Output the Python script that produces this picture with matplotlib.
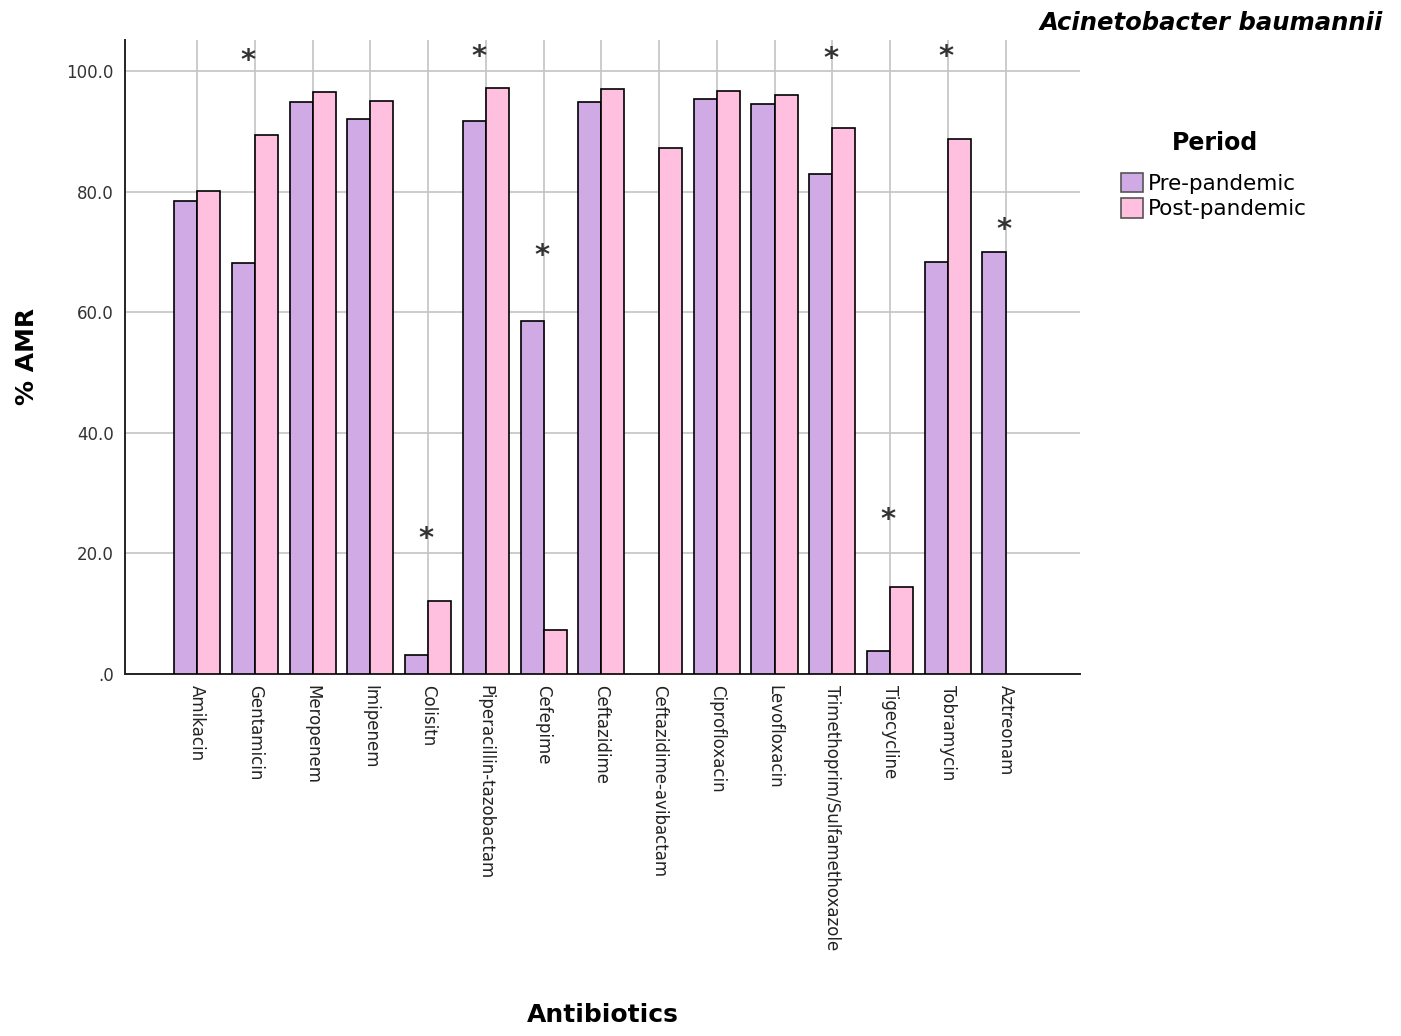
import numpy as np
import matplotlib
matplotlib.use('Agg')
import matplotlib.pyplot as plt
from matplotlib.ticker import FixedLocator, FuncFormatter

# datos
antibioticos = ['Amikacin', 'Gentamicin', 'Meropenem', 'Imipenem', 'Colisitn',
                'Piperacillin-tazobactam', 'Cefepime', 'Ceftazidime',
                'Ceftazidime-avibactam', 'Ciprofloxacin', 'Levofloxacin',
                'Trimethoprim/Sulfamethoxazole', 'Tigecycline', 'Tobramycin',
                'Aztreonam']
pre_pandemia = [78.4, 68.2, 94.9, 92.0, 3.0, 91.7, 58.6, 94.9, np.nan, 95.4,
                94.6, 82.9, 3.8, 68.3, 70.0]
post_pandemia = [80.1, 89.5, 96.5, 95.1, 12.1, 97.3, 7.3, 97.1, 87.2, 96.8,
                 96.0, 90.6, 14.3, 88.7, np.nan]

# asteriscos de significancia
estrellas = ['Gentamicin', 'Colisitn', 'Piperacillin-tazobactam', 'Cefepime',
             'Trimethoprim/Sulfamethoxazole', 'Tigecycline', 'Tobramycin',
             'Aztreonam']
altura_estrellas = [102.7, 23.4, 103.4, 70.3, 103.0, 26.5, 103.4, 74.7]
# los de Gentamicin y Piperacillin estan un poco corridos a la izquierda
corridos = ['Gentamicin', 'Piperacillin-tazobactam']

color_pre = '#D0AAE4'
color_post = '#FFC0DF'

fig = plt.figure(figsize=(14.01, 10.36), dpi=100)
ax = fig.add_axes([0.0892, 0.3499, 0.6817, 0.6115])

x = np.arange(len(antibioticos))
ancho = 0.4
ax.bar(x - ancho / 2, pre_pandemia, ancho, color=color_pre, edgecolor='black',
       linewidth=1.2, label='Pre-pandemic', zorder=3)
ax.bar(x + ancho / 2, post_pandemia, ancho, color=color_post, edgecolor='black',
       linewidth=1.2, label='Post-pandemic', zorder=3)

for nombre, h in zip(estrellas, altura_estrellas):
    i = antibioticos.index(nombre)
    dx = -0.12 if nombre in corridos else -0.03
    ax.text(i + dx, h - 1.0, '*', ha='center', va='center', fontsize=21,
            fontweight='bold', color='#333333', zorder=4)

ax.set_xlim(-1.25, 15.29)
ax.set_ylim(0, 105.2)
ax.set_xticks(x)
ax.set_xticklabels(antibioticos, rotation=270, ha='center', va='top',
                   fontsize=12, color='#222222')
ax.yaxis.set_major_locator(FixedLocator([0, 20, 40, 60, 80, 100]))
ax.yaxis.set_major_formatter(FuncFormatter(lambda v, p: '.0' if v == 0 else '%.1f' % v))
ax.tick_params(axis='y', labelsize=12, labelcolor='#333333', length=0, pad=8)
ax.tick_params(axis='x', length=0, pad=8)

ax.grid(True, color='#c4c4c4', linewidth=1.2, zorder=0)
ax.set_axisbelow(True)
for s in ['top', 'right']:
    ax.spines[s].set_visible(False)
for s in ['left', 'bottom']:
    ax.spines[s].set_color('#222222')
    ax.spines[s].set_linewidth(1.4)

ax.set_ylabel('% AMR', fontsize=18, fontweight='bold')
ax.yaxis.set_label_coords(-0.09, 0.5)
fig.text(0.43, 0.02, 'Antibiotics', fontsize=18, fontweight='bold',
         ha='center', va='center')

fig.text(0.987, 0.978, 'Acinetobacter baumannii', fontsize=17.5,
         fontweight='bold', fontstyle='italic', ha='right', va='center')

# leyenda: titulo aparte para controlar el espacio
fig.text(1215 / 1401, 1 - 143 / 1036, 'Period', fontsize=17, fontweight='bold',
         ha='center', va='center')
leg = ax.legend(loc='upper left', bbox_to_anchor=(1121 / 1401, 1 - 173 / 1036),
                bbox_transform=fig.transFigure, frameon=False, fontsize=15.5,
                handlelength=1.0, handleheight=1.0, handletextpad=0.25,
                labelspacing=0.2, borderaxespad=0, borderpad=0)
for p in leg.get_patches():
    p.set_edgecolor('#555555')

fig.savefig('out.png', dpi=100)
